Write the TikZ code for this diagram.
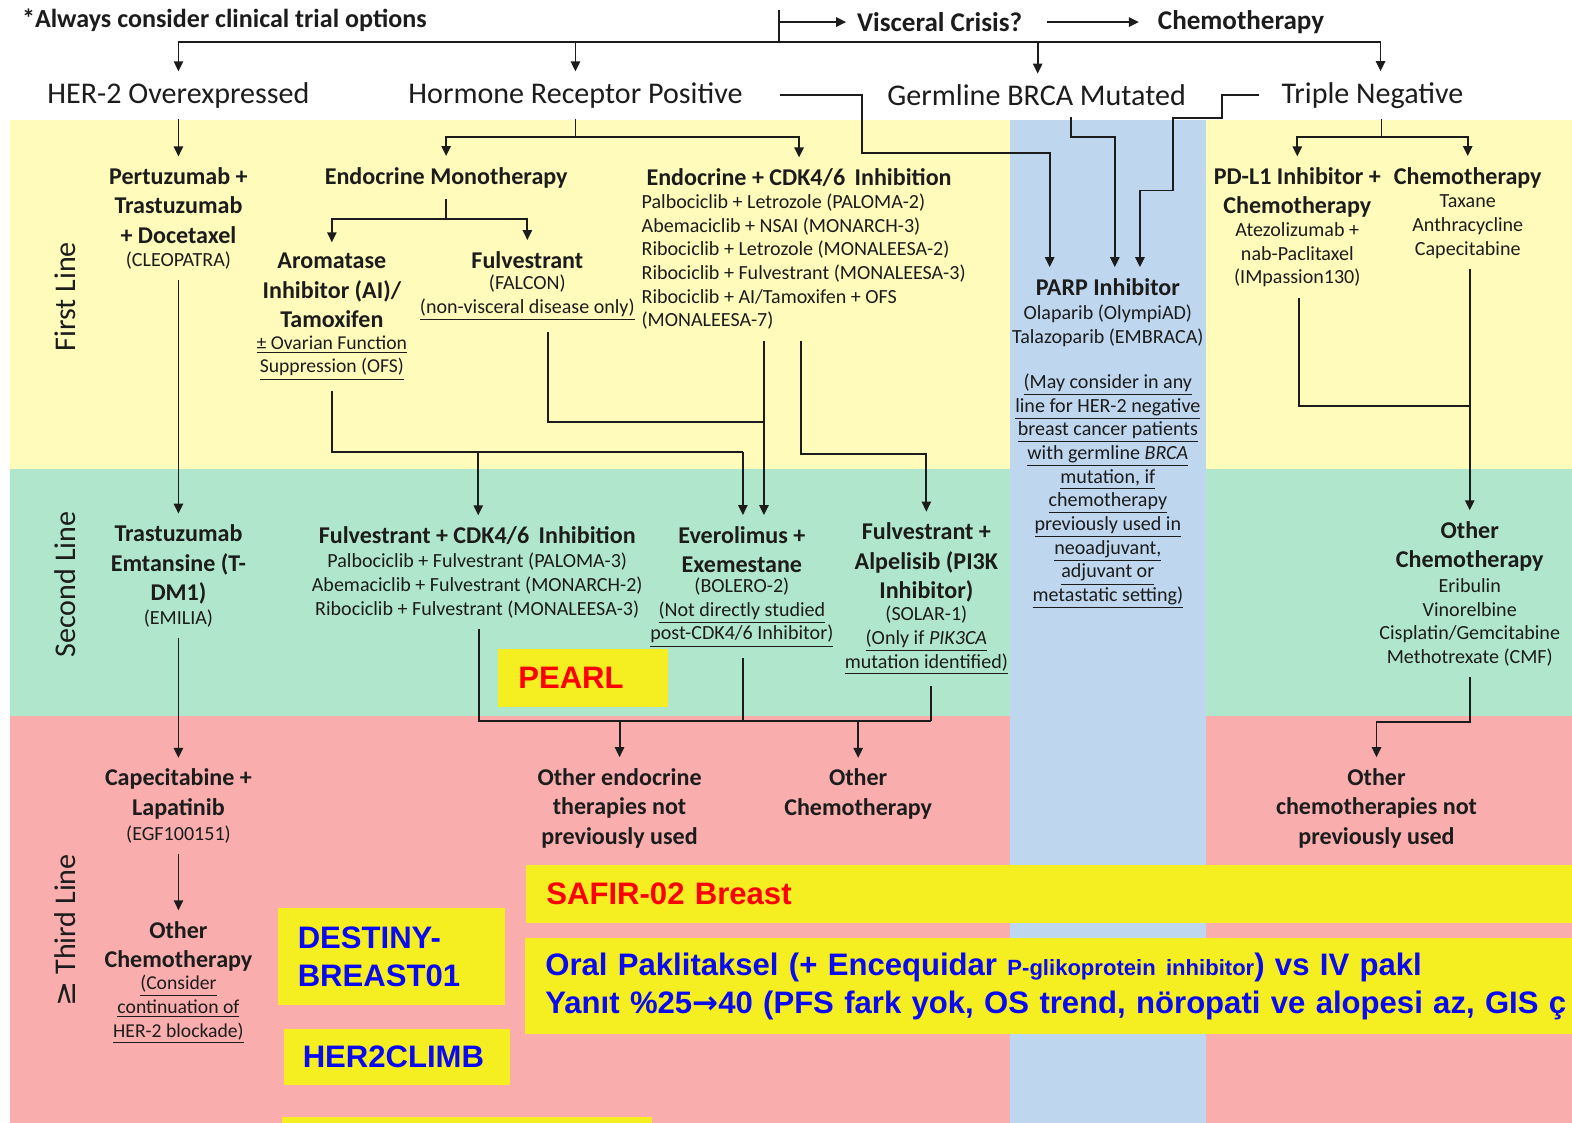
\documentclass[tikz,border=0pt]{standalone}
\usepackage{fontspec}
\setmainfont{Carlito}
\newfontfamily\arialf{Liberation Sans}
\newfontfamily\symf{DejaVu Sans}
\usetikzlibrary{arrows.meta}
\definecolor{bandY}{HTML}{FFFBBB}
\definecolor{bandG}{HTML}{B0E6CB}
\definecolor{bandP}{HTML}{F9ADAD}
\definecolor{colB}{HTML}{BED6EE}
\definecolor{hiY}{HTML}{F5EF22}
\definecolor{ink}{HTML}{1C1C1C}
\definecolor{hiRed}{HTML}{FF0000}
\definecolor{hiBlue}{HTML}{0A0AF0}
\newcommand{\undl}[1]{\underline{#1}}

\begin{document}
\begin{tikzpicture}[x=0.5pt,y=-0.5pt,
  every node/.style={inner sep=0pt, outer sep=5.5pt, text=ink},
  lbl/.style={font=\fontsize{15pt}{18pt}\selectfont},
  hdr/.style={font=\fontsize{13.5pt}{16pt}\selectfont\bfseries},
  ttl/.style={font=\fontsize{12pt}{14.7pt}\selectfont\bfseries, align=center},
  det/.style={font=\fontsize{10pt}{11.8pt}\selectfont, align=center},
  nte/.style={font=\fontsize{9.8pt}{11.8pt}\selectfont, align=center},
  band/.style={font=\fontsize{15pt}{18pt}\selectfont, rotate=90},
  wire/.style={line width=0.95pt, draw=ink},
  arr/.style={wire, -{Triangle[length=5pt,width=4.6pt]}},
  hibox/.style={fill=hiY, font=\fontsize{15.5pt}{19pt}\arialf\bfseries, align=left,
                anchor=north west, outer sep=0pt, inner xsep=10pt},
]
\useasboundingbox (0,0) rectangle (1568,1120);
\clip (0,0) rectangle (1568,1120);

% background bands and the BRCA column
\fill[white] (0,0) rectangle (1568,1120);
\fill[bandY] (10,120) rectangle (1568,468);
\fill[bandG] (10,468) rectangle (1568,714);
\fill[bandP] (10,714) rectangle (1568,1120);
\fill[colB] (1007,120) rectangle (1203,1120);

% line captions
\node[band] (fl) at (65,296) {First Line};
\node[band] (sl) at (65,583) {Second Line};
\node[band] (tl) at (65,928) {{\symf ≥} Third Line};

% header
\node[font=\fontsize{13pt}{16pt}\selectfont\bfseries, anchor=west] (note) at (11,20) {*Always consider clinical trial options};
\node[hdr, anchor=west] (vc) at (844,22) {Visceral Crisis?};
\node[hdr, anchor=west] (ch0) at (1144,22) {Chemotherapy};
\coordinate (vtop) at (777,10);
\coordinate (vmid) at (777,22);
\coordinate (vbot) at (777,42);
\draw[wire] (vtop) -- (vbot);
\draw[arr] (vmid) -- (vc.west);
\draw[arr, shorten <=7pt, shorten >=4pt] (vc.east) -- (ch0.west);

\node[lbl] (herlab) at (178,95) {HER-2 Overexpressed};
\node[lbl] (hrlab) at (574,95) {Hormone Receptor Positive};
\node[lbl] (gblab) at (1034,95) {Germline BRCA Mutated};
\node[lbl] (tnlab) at (1369,95) {Triple Negative};

\coordinate (t1) at (178,42);
\coordinate (t2) at (574,42);
\coordinate (t3) at (1035,42);
\coordinate (t4) at (1377,42);
\draw[wire] (t1) -- (t4);
\draw[arr] (t1) -- (herlab.north);
\draw[arr] (t2) -- (hrlab.north);
\draw[arr] (t3) -- (t3 |- gblab.north);
\draw[arr] (t4) -- (t4 |- tnlab.north);

% ---------- HER-2 column ----------
\node[ttl] (herT) at (178,205) {Pertuzumab +\\Trastuzumab\\+ Docetaxel};
\node[det] (herD) at (178,260) {(CLEOPATRA)};
\node[ttl] (tdmT) at (178,563) {Trastuzumab\\Emtansine (T-\\DM1)};
\node[det] (tdmD) at (178,617) {(EMILIA)};
\node[ttl] (capT) at (178,792) {Capecitabine +\\Lapatinib};
\node[det] (capD) at (178,832) {(EGF100151)};
\node[ttl] (ocT) at (178,944) {Other\\Chemotherapy};
\node[nte] (ocD) at (178,1007) {\undl{(Consider}\\\undl{continuation of}\\\undl{HER-2 blockade)}};

\draw[arr] (herlab.south) -- (herT.north);
\draw[arr] (herD.south) -- (tdmT.north);
\draw[arr] (tdmD.south) -- (capT.north);
\draw[arr] (capD.south) -- (ocT.north);

% ---------- Hormone receptor positive ----------
\node[ttl] (emT) at (445,177) {Endocrine Monotherapy};
\node[ttl] (aiT) at (331,290) {Aromatase\\Inhibitor (AI)/\\Tamoxifen};
\node[nte] (aiD) at (331,357) {\undl{± Ovarian Function}\\\undl{Suppression (OFS)}};
\node[ttl] (fulT) at (526,259) {Fulvestrant};
\node[det] (fulD) at (526,297) {(FALCON)\\\undl{(non-visceral disease only)}};
\node[ttl] (cdkT) at (797,177) {Endocrine + CDK4/6\, Inhibition};
\node[det, align=left, anchor=west] (cdkD) at (629,261) {Palbociclib + Letrozole (PALOMA-2)\\Abemaciclib + NSAI (MONARCH-3)\\Ribociclib + Letrozole (MONALEESA-2)\\Ribociclib + Fulvestrant (MONALEESA-3)\\Ribociclib + AI/Tamoxifen + OFS\\(MONALEESA-7)};

\coordinate (hrj) at (574,137);
\draw[wire] (hrlab.south) -- (hrj);
\draw[arr] (hrj) -| (emT.north);
\draw[arr] (hrj) -| (cdkT.north);
\coordinate (emj) at (445,218);
\draw[wire] (emT.south) -- (emj);
\draw[arr] (emj) -| (aiT.north);
\draw[arr] (emj) -| (fulT.north);

% second line, HR+
\node[ttl] (fcT) at (476,534) {Fulvestrant + CDK4/6\, Inhibition};
\node[det] (fcD) at (476,584) {Palbociclib + Fulvestrant (PALOMA-3)\\Abemaciclib + Fulvestrant (MONARCH-2)\\Ribociclib + Fulvestrant (MONALEESA-3)};
\node[ttl] (evT) at (740,548) {Everolimus +\\Exemestane};
\node[det] (evD) at (740,611) {(BOLERO-2)\\\undl{(Not directly studied}\\\undl{post-CDK4/6 Inhibitor)}};
\node[ttl] (faT) at (924,561) {Fulvestrant +\\Alpelisib (PI3K\\Inhibitor)};
\node[det] (faD) at (924,639) {(SOLAR-1)\\\undl{(Only if \textit{PIK3CA}}\\\undl{mutation identified)}};

% first line to second line, HR+
\coordinate (aij) at (331,451);
\coordinate (aij2) at (741,451);
\coordinate (fcx) at (477,451);
\draw[wire] (aiD.south) -- (aij) -- (aij2);
\draw[arr] (aij2) -- (aij2 |- evT.north);
\draw[arr] (fcx) -- (fcx |- fcT.north);
\coordinate (fuj) at (547,421);
\coordinate (fuj2) at (762,421);
\draw[wire] (fulD.south -| fuj) -- (fuj) -- (fuj2);
\draw[arr] (cdkD.south -| fuj2) -- (fuj2 |- evT.north);
\coordinate (c2a) at (799,453);
\coordinate (c2b) at (924,453);
\draw[arr] (cdkD.south -| c2a) -- (c2a) -- (c2b) -- (faT.north);

% third line, HR+
\node[ttl] (oe) at (618,806) {Other endocrine\\therapies not\\previously used};
\node[ttl] (och) at (856,792) {Other\\Chemotherapy};
\coordinate (m1) at (478,719);
\coordinate (m2) at (741,719);
\coordinate (m3) at (929,719);
\coordinate (m4) at (618,719);
\coordinate (m5) at (856,719);
\draw[wire] (fcD.south -| m1) -- (m1) -- (m3);
\draw[wire] (evD.south -| m2) -- (m2);
\draw[wire] (faD.south -| m3) -- (m3);
\draw[arr] (m4) -- (oe.north);
\draw[arr] (m5) -- (och.north);

% ---------- PARP inhibitor column ----------
\node[ttl] (parpT) at (1105,286) {PARP Inhibitor};
\node[det] (parpD) at (1105,325) {Olaparib (OlympiAD)\\Talazoparib (EMBRACA)};
\node[det] (parpN) at (1105,490) {\undl{(May consider in any}\\\undl{line for HER-2 negative}\\\undl{breast cancer patients}\\\undl{with germline \textit{BRCA}}\\\undl{mutation, if}\\\undl{chemotherapy}\\\undl{previously used in}\\\undl{neoadjuvant,}\\\undl{adjuvant or}\\\undl{metastatic setting)}};

\coordinate (p2) at (860,153);
\coordinate (p3) at (1047,153);
\draw[arr, shorten <=13pt] (hrlab.east) -- (hrlab.east -| p2) -- (p2) -- (p3) -- (p3 |- parpT.north);
\coordinate (g1) at (1068,137);
\coordinate (g2) at (1112,137);
\draw[arr] (gblab.south -| g1) -- (g1) -- (g2) -- (g2 |- parpT.north);
\coordinate (n1) at (1219,118);
\coordinate (n2) at (1170,118);
\coordinate (n3) at (1170,190);
\coordinate (n4) at (1137,190);
\draw[arr, shorten <=6pt] (tnlab.west) -- (tnlab.west -| n1) -- (n1) -- (n2) -- (n3) -- (n4) -- (n4 |- parpT.north);

% ---------- Triple negative ----------
\node[ttl] (pdT) at (1294,192) {PD-L1 Inhibitor +\\Chemotherapy};
\node[det] (pdD) at (1294,254) {Atezolizumab +\\nab-Paclitaxel\\(IMpassion130)};
\node[ttl] (chT) at (1464,177) {Chemotherapy};
\node[det] (chD) at (1464,226) {Taxane\\Anthracycline\\Capecitabine};
\node[ttl] (oc2T) at (1466,545) {Other\\Chemotherapy};
\node[det] (oc2D) at (1466,621) {Eribulin\\Vinorelbine\\Cisplatin/Gemcitabine\\Methotrexate (CMF)};
\node[ttl] (tc3) at (1373,806) {Other\\chemotherapies not\\previously used};

\coordinate (tnj) at (1378,137);
\draw[wire] (tnlab.south -| tnj) -- (tnj);
\draw[arr] (tnj) -| (pdT.north);
\draw[arr] (tnj) -| (chT.north);
\coordinate (pdj) at (1296,405);
\coordinate (chj) at (1466,405);
\draw[wire] (pdD.south -| pdj) -- (pdj) -- (chj);
\draw[arr] (chD.south -| chj) -- (chj |- oc2T.north);
\coordinate (o2a) at (1466,720);
\coordinate (o2b) at (1373,720);
\draw[arr] (oc2D.south) -- (o2a) -- (o2b) -- (tc3.north);

% ---------- highlighted trial boxes ----------
\node[hibox, text=hiRed, text width=64.5pt, minimum height=29pt] (pearl) at (497,647) {PEARL};
\node[hibox, text=hiRed, text width=501.5pt, minimum height=29pt] (safir) at (525,863) {SAFIR-02 Breast};
\node[hibox, text=hiBlue, text width=502pt, minimum height=47.5pt] (oral) at (524,936)
  {Oral Paklitaksel (+ Encequidar {\fontsize{11pt}{13pt}\selectfont P-glikoprotein inhibitor}) vs IV pakl\\
   \mbox{Yanıt \%25{\symf\bfseries →}40 (PFS fark yok, OS trend, nöropati ve alopesi az, GIS ç}};
\node[hibox, text=hiBlue, text width=93.5pt, minimum height=48pt] (destiny) at (277,906) {DESTINY-\\BREAST01};
\node[hibox, text=hiBlue, text width=94pt, minimum height=28pt, inner xsep=9.5pt] (climb) at (283,1026) {HER2CLIMB};
\node[hibox, minimum width=184.5pt, minimum height=10pt, inner xsep=0pt] (lastbox) at (281,1114) {};

\end{tikzpicture}
\end{document}
